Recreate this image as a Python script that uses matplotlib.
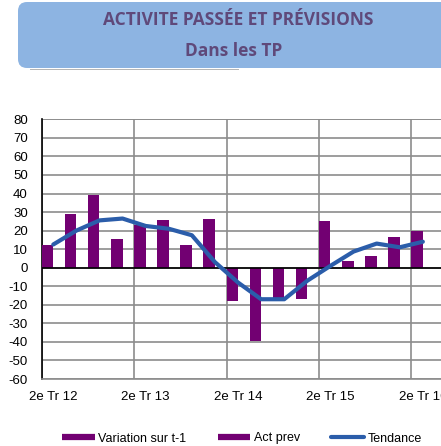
import numpy as np
import matplotlib
matplotlib.use("Agg")
import matplotlib.pyplot as plt
from matplotlib.patches import FancyBboxPatch
from matplotlib.lines import Line2D

# data (quarters from 2e Tr 12 to 2e Tr 16)
quarters = ["2e Tr 12", "3e Tr 12", "4e Tr 12", "1er Tr 13",
            "2e Tr 13", "3e Tr 13", "4e Tr 13", "1er Tr 14",
            "2e Tr 14", "3e Tr 14", "4e Tr 14", "1er Tr 15",
            "2e Tr 15", "3e Tr 15", "4e Tr 15", "1er Tr 16",
            "2e Tr 16"]
variation = [12, 29, 39, 15.5, 23, 25.5, 12, 26.5,
             -18, -39.5, -16.5, -17, 25, 3.5, 6.5, 16.5, 20]
act_prev = [np.nan] * len(quarters)
tendance = [12.5, 20, 25.5, 26.5, 22.5, 21, 17.5, 3,
            -8, -17, -17, -7, 1, 8.7, 13, 11, 14]

purple = "#720072"
blue = "#2B5DAA"
grid_c = "#8C8C8C"

plt.rcParams['font.family'] = ['Liberation Sans', 'DejaVu Sans']
plt.rcParams['axes.unicode_minus'] = False

fig = plt.figure(figsize=(4.41, 4.46), dpi=100)

# title box (pixel coords)
fig.patches.append(FancyBboxPatch((18, 446 - 68), 460, 66,
                                  boxstyle="round,pad=0,rounding_size=9",
                                  transform=None, facecolor="#8DB4E2",
                                  edgecolor="none", zorder=0))
fig.lines.append(Line2D([30, 238], [446 - 68.5, 446 - 68.5], transform=None,
                        color="#B4B4B4", lw=0.7))
title_c = "#5F497A"
fig.text(238 / 441, 1 - 20 / 446, "ACTIVITE PASSÉE ET PRÉVISIONS",
         ha="center", va="center", fontsize=12.5, fontweight="bold",
         color=title_c, family=["Open Sans", "DejaVu Sans"])
fig.text(234 / 441, 1 - 51 / 446, "Dans les TP",
         ha="center", va="center", fontsize=12.5, fontweight="bold",
         color=title_c, family=["Open Sans", "DejaVu Sans"])

ax = fig.add_axes([41.7 / 441, 67 / 446, 1 - 41.7 / 441, 259.7 / 446])

x = np.arange(len(quarters))
ax.bar(x, variation, width=0.5, align="edge", color=purple,
       label="Variation sur t-1", zorder=3)
ax.bar(x + 0.5, act_prev, width=0.5, align="edge", color=purple,
       label="Act prev", zorder=3)
ax.plot(x + 0.5, tendance, color=blue, lw=3, solid_capstyle="round",
        solid_joinstyle="round", label="Tendance", zorder=4)

ax.axhline(0, color="black", lw=1.2, zorder=3.5)

ax.set_xlim(0, (441 - 41.7) / 23.1)
ax.set_ylim(-60, 80)
ax.set_yticks(range(-60, 81, 10))
ax.set_xticks(range(0, len(quarters), 4))
ax.set_xticklabels([])
ax.set_xticks(np.arange(0, len(quarters), 4) + 0.5, minor=True)
ax.set_xticklabels(quarters[::4], minor=True)
ax.tick_params(axis="both", which="both", length=0, labelsize=9.5)
ax.tick_params(axis="y", pad=10)
ax.tick_params(axis="x", which="minor", pad=9)

ax.grid(True, axis="both", which="major", color=grid_c, lw=1.2, zorder=0)
ax.set_axisbelow(True)
for side in ["top", "right"]:
    ax.spines[side].set_visible(False)
ax.spines["left"].set_color("black")
ax.spines["left"].set_linewidth(1.2)
ax.spines["bottom"].set_color(grid_c)
ax.spines["bottom"].set_linewidth(1.2)
ax.axhline(80, color=grid_c, lw=1.2, zorder=1)

handles = [Line2D([], [], color=purple, lw=4.5, solid_capstyle="butt"),
           Line2D([], [], color=purple, lw=4.5, solid_capstyle="butt"),
           Line2D([], [], color=blue, lw=3, solid_capstyle="round")]
fig.legend(handles, ["Variation sur t-1", "Act prev", "Tendance"],
           loc="center left", bbox_to_anchor=(62 / 441, 7.5 / 446),
           ncol=3, frameon=False, fontsize=9, handlelength=2.6,
           handletextpad=0.3, columnspacing=2.5, borderpad=0,
           borderaxespad=0)

fig.savefig("out.png", dpi=100)
